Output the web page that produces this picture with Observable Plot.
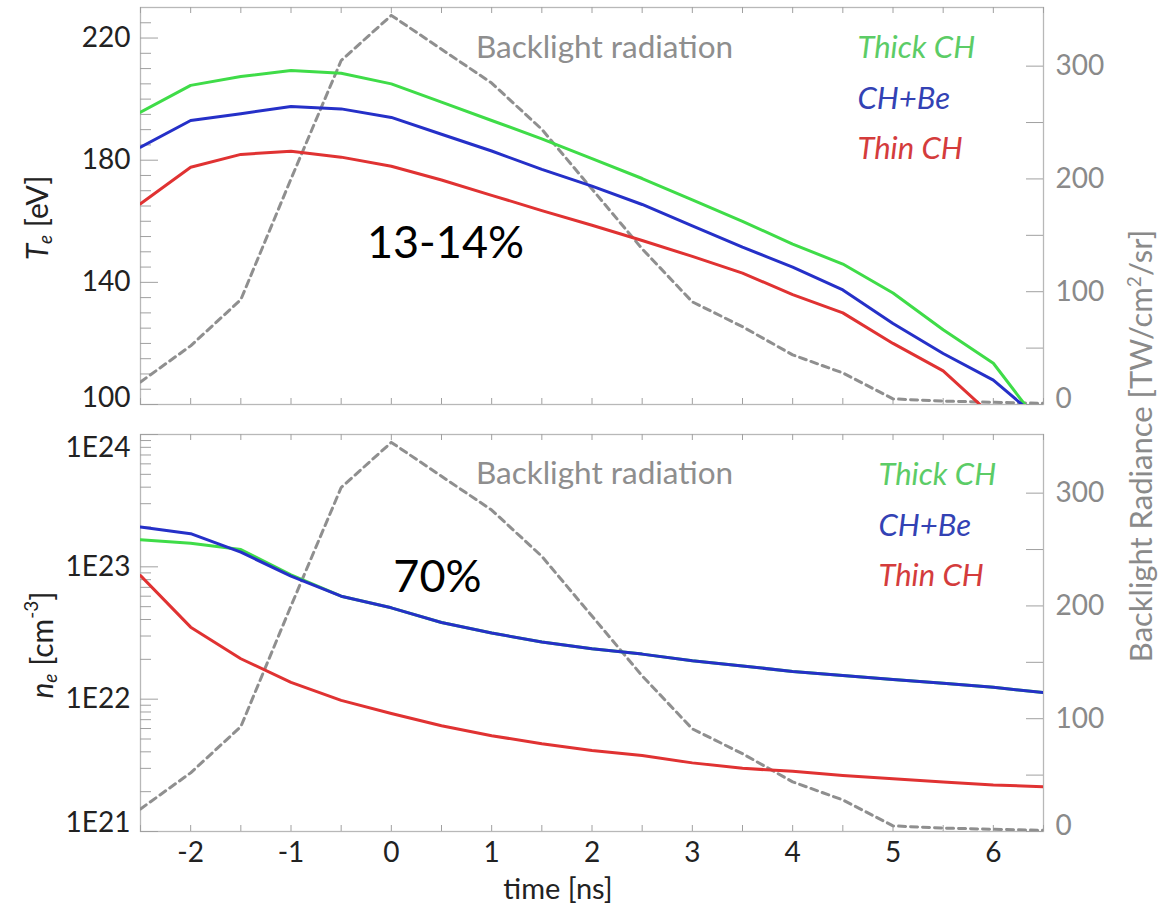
<!DOCTYPE html>
<html><head><meta charset="utf-8">
<script src="https://cdn.jsdelivr.net/npm/d3@7"></script>
<script src="https://cdn.jsdelivr.net/npm/@observablehq/plot@0.6"></script>
<style>
body{margin:0;background:#fff;}
#wrap{position:relative;width:1173px;height:905px;font-family:Lato,sans-serif;}
#wrap svg{display:block;}
#rlabel{position:absolute;left:1140px;top:446px;transform:translate(-50%,-50%) rotate(-90deg);white-space:nowrap;font-size:31px;color:#8a8a8a;font-family:Lato,sans-serif;}
</style></head><body><div id="wrap"></div>
<script>
// ---- data ----
const time = [-2.5,-2,-1.5,-1,-0.5,0,0.5,1,1.5,2,2.5,3,3.5,4,4.5,5,5.5,6,6.5];
// electron temperature Te [eV]
const teThick = [195.7,204.5,207.4,209.4,208.5,205,199,193,187,180.5,174,167,160,152.5,146,136.5,124.5,113.5,92];
const teCHBe  = [184.3,193,195.2,197.6,196.8,194,188.5,183,177,171.5,165.5,158.5,151.5,145,137.5,126.5,116.7,108,94];
const teThin  = [165.7,177.7,181.9,182.9,181,178,173.5,168.5,163.5,158.7,153.7,148.5,143,136,130,120,111,96,null];
// electron density ne [cm^-3]
const neThick = [1.6e23,1.51e23,1.35e23,8.7e22,6.0e22,4.9e22,3.8e22,3.16e22,2.7e22,2.4e22,2.19e22,1.95e22,1.78e22,1.62e22,1.51e22,1.41e22,1.32e22,1.23e22,1.12e22];
const neCHBe  = [2.0e23,1.78e23,1.29e23,8.5e22,6.0e22,4.9e22,3.8e22,3.16e22,2.7e22,2.4e22,2.19e22,1.95e22,1.78e22,1.62e22,1.51e22,1.41e22,1.32e22,1.23e22,1.12e22];
const neThin  = [8.6e22,3.5e22,2.02e22,1.34e22,9.8e21,7.8e21,6.3e21,5.3e21,4.6e21,4.1e21,3.75e21,3.3e21,3.0e21,2.85e21,2.65e21,2.5e21,2.37e21,2.25e21,2.18e21];
// backlight radiance [TW/cm2/sr]
const backlight = [20,52,93,200,305,345,315,285,244,191,138,91,69,44,28,5,3,2,1];

const seriesNames = ["Thick CH","CH+Be","Thin CH"];
const seriesColors = ["#3fdc48","#2530c8","#e03232"];
const legendColors = ["#5ccc66","#3342b4","#d43c3c"];

const timeTicks = [-2,-1,0,1,2,3,4,5,6];
const timeMinor = [-2.5,-2,-1.5,-1,-0.5,0,0.5,1,1.5,2,2.5,3,3.5,4,4.5,5,5.5,6,6.5];
const teTicks = [100,140,180,220];
const teMinor = d3.range(105, 230, 5);
const blTicks = [0,100,200,300];
const blMinor = [50,150,250];
const neDecades = [21,22,23,24];
const neMantissa = [2,3,4,5,6,7,8,9];
const annoTop = ["13-14%"];
const annoBottom = ["70%"];
const backlightTitle = ["Backlight radiation"];

// ---- layout ----
const W = 1173, ML = 140, MR = 130, PW = W - ML - MR;
const B_MAX = 352;
const TE_MIN = 100, TE_MAX = 230;
const teFromB = b => TE_MIN + b * (TE_MAX - TE_MIN) / B_MAX;
const neFromB = b => Math.pow(10, 21 + b * 3 / B_MAX);
const FONT = "Lato, sans-serif";
const TICK_FS = 28;

function rows(ys) { return time.map((t, i) => ({t, v: ys[i]})).filter(d => d.v != null); }
const blRows = rows(backlight);

function frameMarks(ph, leftMajor, leftMinor, rightAll) {
  return [
    Plot.frame({stroke: "#b8b8b8", strokeWidth: 1.3}),
    Plot.tickY(leftMinor, {y: d => d, stroke: "#a0a0a0", insetRight: PW - 11}),
    Plot.tickY(leftMajor, {y: d => d, stroke: "#a0a0a0", insetRight: PW - 18}),
    Plot.tickY(rightAll, {y: d => d, stroke: "#a0a0a0", insetLeft: PW - 17}),
    Plot.tickX(timeMinor, {x: d => d, stroke: "#a0a0a0", insetBottom: ph - 6}),
    Plot.tickX(timeMinor, {x: d => d, stroke: "#a0a0a0", insetTop: ph - 6})
  ];
}
function leftLabels(vals, fmt, dy) {
  return Plot.text(vals, {y: d => d, text: fmt, frameAnchor: "left", dx: -10, dy, textAnchor: "end", lineAnchor: "middle", fill: "#222", fontSize: TICK_FS, fontFamily: FONT});
}
function rightLabels(vals, toY, dy) {
  return Plot.text(vals, {y: d => toY(d), text: d => String(d), frameAnchor: "right", dx: 12, dy, textAnchor: "start", lineAnchor: "middle", fill: "#8a8a8a", fontSize: TICK_FS, fontFamily: FONT});
}
function legendMarks(dxLeft) {
  return seriesNames.map((name, i) => Plot.text([name], {
    text: d => d, frameAnchor: "top-right", dx: dxLeft, dy: 41 + i * 50.5,
    textAnchor: "start", lineAnchor: "middle", fill: legendColors[i],
    fontSize: 31, fontStyle: "italic", fontFamily: FONT
  }));
}

// ---- top panel: Te ----
const topH = 420, topMT = 7, topMB = 16, topPH = topH - topMT - topMB;
const topPlot = Plot.plot({
  width: W, height: topH, marginTop: topMT, marginBottom: topMB, marginLeft: ML, marginRight: MR,
  style: {fontFamily: FONT, background: "white"},
  x: {domain: [-2.5, 6.5], axis: null},
  y: {domain: [TE_MIN, TE_MAX], axis: null},
  marks: [
    ...frameMarks(topPH, teTicks, teMinor.filter(d => !teTicks.includes(d)), [...blTicks, ...blMinor].map(teFromB)),
    leftLabels(teTicks.slice(1), d => String(d), 0),
    leftLabels(teTicks.slice(0, 1), d => String(d), -6),
    rightLabels(blTicks.slice(1), teFromB, 0),
    rightLabels(blTicks.slice(0, 1), teFromB, -5),
    Plot.line(blRows, {x: "t", y: d => teFromB(d.v), stroke: "#8f8f8f", strokeWidth: 3, strokeDasharray: "7,5", clip: true}),
    Plot.line(rows(teThick), {x: "t", y: "v", stroke: seriesColors[0], strokeWidth: 3, clip: true}),
    Plot.line(rows(teCHBe), {x: "t", y: "v", stroke: seriesColors[1], strokeWidth: 3, clip: true}),
    Plot.line(rows(teThin), {x: "t", y: "v", stroke: seriesColors[2], strokeWidth: 3, clip: true}),
    Plot.text(backlightTitle, {text: d => d, frameAnchor: "top-left", dx: 604 - ML, dy: 40, textAnchor: "middle", lineAnchor: "middle", fill: "#8e8e8e", fontSize: 31.5, fontFamily: FONT}),
    Plot.text(annoTop, {text: d => d, frameAnchor: "top-left", dx: 445 - ML, dy: 236, textAnchor: "middle", lineAnchor: "middle", fill: "#000", fontSize: 45, fontFamily: FONT}),
    ...legendMarks(857 - (W - MR))
  ]
});

// ---- bottom panel: ne ----
const botH = 485, botMT = 14, botMB = 74, botPH = botH - botMT - botMB;
const neMajor = neDecades.map(k => Math.pow(10, k));
const neMinor = neDecades.slice(0, 3).flatMap(k => neMantissa.map(m => m * Math.pow(10, k)));
const neFmt = d => "1E" + Math.round(Math.log10(d));
const botPlot = Plot.plot({
  width: W, height: botH, marginTop: botMT, marginBottom: botMB, marginLeft: ML, marginRight: MR,
  style: {fontFamily: FONT, background: "white"},
  x: {domain: [-2.5, 6.5]},
  y: {type: "log", domain: [1e21, 1e24], axis: null},
  marks: [
    ...frameMarks(botPH, neMajor, neMinor, [...blTicks, ...blMinor].map(neFromB)),
    leftLabels(neMajor.slice(1, 3), neFmt, 0),
    leftLabels(neMajor.slice(3), neFmt, 14),
    leftLabels(neMajor.slice(0, 1), neFmt, -8),
    rightLabels(blTicks.slice(1), neFromB, 0),
    rightLabels(blTicks.slice(0, 1), neFromB, -5),
    Plot.axisX({ticks: timeTicks, tickFormat: d => String(d), tickSize: 0, tickPadding: 11, fontSize: TICK_FS, color: "#222", label: null}),
    Plot.line(blRows, {x: "t", y: d => neFromB(d.v), stroke: "#8f8f8f", strokeWidth: 3, strokeDasharray: "7,5", clip: true}),
    Plot.line(rows(neThick), {x: "t", y: "v", stroke: seriesColors[0], strokeWidth: 3, clip: true}),
    Plot.line(rows(neCHBe), {x: "t", y: "v", stroke: seriesColors[1], strokeWidth: 3, clip: true}),
    Plot.line(rows(neThin), {x: "t", y: "v", stroke: seriesColors[2], strokeWidth: 3, clip: true}),
    Plot.text(backlightTitle, {text: d => d, frameAnchor: "top-left", dx: 604 - ML, dy: 39, textAnchor: "middle", lineAnchor: "middle", fill: "#8e8e8e", fontSize: 31.5, fontFamily: FONT}),
    Plot.text(annoBottom, {text: d => d, frameAnchor: "top-left", dx: 437 - ML, dy: 143, textAnchor: "middle", lineAnchor: "middle", fill: "#000", fontSize: 45, fontFamily: FONT}),
    ...legendMarks(878 - (W - MR))
  ]
});

const wrap = document.getElementById("wrap");
wrap.appendChild(topPlot);
wrap.appendChild(botPlot);

// axis titles with sub/superscripts
function yTitle(svg, x, y, parts) {
  const t = d3.select(svg).append("text")
    .attr("transform", `translate(${x},${y}) rotate(-90)`)
    .attr("text-anchor", "middle").attr("dominant-baseline", "central")
    .attr("font-family", FONT).attr("font-size", 30).attr("fill", "#222");
  let shift = 0;
  for (const p of parts) {
    const s = t.append("tspan").text(p.text);
    const target = p.sub ? 8 : p.sup ? -11 : 0;
    if (target !== shift) { s.attr("dy", target - shift); shift = target; }
    if (p.sub || p.sup) s.attr("font-size", 19);
    if (p.italic) s.attr("font-style", "italic");
  }
}
yTitle(topPlot, 36, 218, [{text: "T", italic: true}, {text: "e", italic: true, sub: true}, {text: " [eV]"}]);
yTitle(botPlot, 41, 225, [{text: "n", italic: true}, {text: "e", italic: true, sub: true}, {text: " [cm"}, {text: "-3", sup: true}, {text: "]"}]);
d3.select(botPlot).append("text").attr("x", 558).attr("y", 467)
  .attr("text-anchor", "middle").attr("dominant-baseline", "central")
  .attr("font-family", FONT).attr("font-size", 29).attr("fill", "#222").text("time [ns]");

const rl = document.createElement("div");
rl.id = "rlabel";
rl.innerHTML = "Backlight Radiance [TW/cm<sup style='font-size:19px'>2</sup>/sr]";
wrap.appendChild(rl);
</script>
</body></html>
